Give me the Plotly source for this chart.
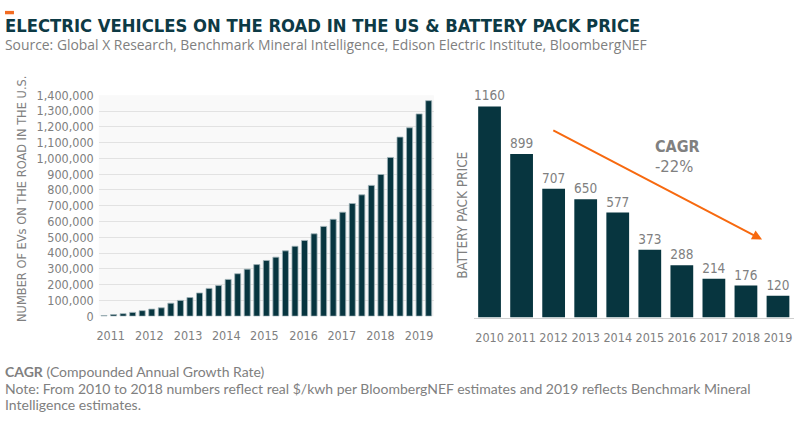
import plotly.graph_objects as go

# ---------------- data ----------------
quarter_index = list(range(1, 36))  # 2011 Q1 .. 2019 Q3
ev_on_road = [4000, 10000, 16000, 24000, 35000, 45000, 53000, 82000, 100000,
              118000, 147000, 176000, 194000, 233000, 269000, 298000, 327000,
              353000, 374000, 414000, 443000, 480000, 522000, 569000, 614000,
              659000, 714000, 769000, 829000, 898000, 1006000, 1135000,
              1194000, 1282000, 1366000]
ev_year_labels = ["2011", "2012", "2013", "2014", "2015", "2016", "2017", "2018", "2019"]
ev_year_tickpos = [1.7, 5.75, 9.8, 13.8, 17.8, 21.9, 25.9, 29.95, 34.0]
ev_yticks = list(range(0, 1400001, 100000))

price_years = ["2010", "2011", "2012", "2013", "2014", "2015", "2016", "2017", "2018", "2019"]
battery_price = [1160, 899, 707, 650, 577, 373, 288, 214, 176, 120]

# ---------------- style ----------------
W, H = 800, 423
NARROW = "DejaVu Sans Condensed, DejaVu Sans, sans-serif"
REG = "Open Sans, Noto Sans, Arial, sans-serif"
FOOT = "Lato, Roboto, Arial, sans-serif"
BAR = "#07353F"
GREY = "#808080"
TITLE_C = "#0D3A45"
ORANGE = "#F7690F"


def px(x):
    return x / W


def py(y):
    return 1 - y / H


fig = go.Figure()

fig.add_trace(go.Bar(
    x=quarter_index, y=ev_on_road, xaxis="x", yaxis="y", width=0.63,
    marker=dict(color=BAR, line=dict(color="#9fb3b7", width=0.8)),
    hoverinfo="y", showlegend=False,
))

fig.add_trace(go.Bar(
    x=price_years, y=battery_price, xaxis="x2", yaxis="y2", width=0.71,
    marker=dict(color=BAR, line=dict(width=0)),
    text=[str(v) for v in battery_price], textposition="outside",
    textfont=dict(family=NARROW, size=13.5, color=GREY),
    constraintext="none", cliponaxis=False, showlegend=False,
))

fig.update_layout(
    width=W, height=H,
    margin=dict(l=0, r=0, t=0, b=0),
    paper_bgcolor="white", plot_bgcolor="white",
    xaxis=dict(
        domain=[px(97), px(433)], range=[0.45, 35.55],
        tickvals=ev_year_tickpos, ticktext=ev_year_labels, tickangle=0,
        tickfont=dict(family=NARROW, size=12.5, color=GREY),
        showgrid=False, zeroline=False, showline=False, ticks="",
        ticklabelstandoff=10, anchor="y",
    ),
    yaxis=dict(
        domain=[py(319.5), py(90.5)], range=[0, 1400000],
        tickvals=ev_yticks, tickformat=",",
        tickfont=dict(family=NARROW, size=12.5, color=GREY),
        showgrid=True, gridcolor="#e2e2e2", gridwidth=1,
        zeroline=False, showline=False, ticks="", ticklabelstandoff=4,
        anchor="x",
    ),
    xaxis2=dict(
        domain=[px(472.7), px(794)], type="category", tickangle=0,
        tickfont=dict(family=NARROW, size=12.5, color=GREY),
        showgrid=False, zeroline=False, showline=True, linecolor="#cfcfcf",
        linewidth=1, ticks="", ticklabelstandoff=8, anchor="y2",
    ),
    yaxis2=dict(
        domain=[py(321), py(60)], range=[0, 1382.5],
        showticklabels=False, showgrid=False, zeroline=False, showline=False,
        ticks="", anchor="x2",
    ),
)

# Plot background for the left chart
fig.add_shape(type="rect", xref="x domain", yref="y domain", x0=0, x1=1, y0=0, y1=1,
              fillcolor="#f9f9f9", line=dict(width=0), layer="below")

# small orange accent
fig.add_shape(type="rect", xref="paper", yref="paper", x0=px(3), x1=px(12),
              y0=py(6.5), y1=py(3), fillcolor="#F26B21", line=dict(width=0))

ann = []
ann.append(dict(x=px(1), y=py(18), xref="paper", yref="paper", xanchor="left", yanchor="middle",
                text="<b>ELECTRIC VEHICLES ON THE ROAD IN THE US &amp; BATTERY PACK PRICE</b>",
                font=dict(family=NARROW, size=18.3, color=TITLE_C), showarrow=False))
ann.append(dict(x=px(1), y=py(38), xref="paper", yref="paper", xanchor="left", yanchor="middle",
                text="Source: Global X Research, Benchmark Mineral Intelligence, Edison Electric Institute, BloombergNEF",
                font=dict(family=REG, size=13.9, color=GREY), showarrow=False))
ann.append(dict(x=px(20), y=py(198), xref="paper", yref="paper", xanchor="center", yanchor="middle",
                text="NUMBER OF EVs ON THE ROAD IN THE U.S.", textangle=-90,
                font=dict(family=NARROW, size=12.7, color=GREY), showarrow=False))
ann.append(dict(x=px(461), y=py(214.5), xref="paper", yref="paper", xanchor="center", yanchor="middle",
                text="BATTERY PACK PRICE", textangle=-90,
                font=dict(family=NARROW, size=13.5, color=GREY), showarrow=False))
ann.append(dict(x=px(653), y=py(143.5), xref="paper", yref="paper", xanchor="left", yanchor="middle",
                text="<b>CAGR</b>", font=dict(family=NARROW, size=16, color=GREY), showarrow=False))
ann.append(dict(x=px(653), y=py(164), xref="paper", yref="paper", xanchor="left", yanchor="middle",
                text="-22%", font=dict(family=NARROW, size=16.5, color=GREY), showarrow=False))
# arrow
ann.append(dict(x=px(762), y=py(240), ax=551.7 - 762, ay=130 - 240, xref="paper", yref="paper",
                axref="pixel", ayref="pixel", text="", showarrow=True, arrowhead=2,
                arrowsize=1, arrowwidth=2, arrowcolor=ORANGE))
# footer
ann.append(dict(x=px(1), y=py(377), xref="paper", yref="paper", xanchor="left", yanchor="middle",
                text="<b>CAGR</b> (Compounded Annual Growth Rate)",
                font=dict(family=FOOT, size=14, color=GREY), showarrow=False))
ann.append(dict(x=px(1), y=py(394), xref="paper", yref="paper", xanchor="left", yanchor="middle",
                text="Note: From 2010 to 2018 numbers reflect real $/kwh per BloombergNEF estimates and 2019 reflects Benchmark Mineral",
                font=dict(family=FOOT, size=14, color=GREY), showarrow=False))
ann.append(dict(x=px(1), y=py(411), xref="paper", yref="paper", xanchor="left", yanchor="middle",
                text="Intelligence estimates.",
                font=dict(family=FOOT, size=14, color=GREY), showarrow=False))
fig.update_layout(annotations=ann)

fig.write_html("out.html")
